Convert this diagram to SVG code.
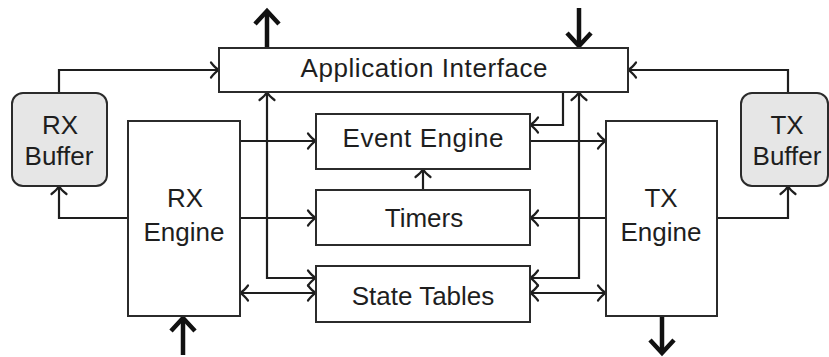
<svg xmlns="http://www.w3.org/2000/svg" width="829" height="357" viewBox="0 0 829 357">
  <defs>
    <style>
      .box { fill: #ffffff; stroke: #2b2b2b; stroke-width: 2; }
      .buf { fill: #e6e6e6; stroke: #2b2b2b; stroke-width: 2; }
      .lbl { font-family: "Liberation Sans", Arial, sans-serif; font-size: 26px; fill: #1e1e1e; text-anchor: middle; }
      .wire { fill: none; stroke: #1e1e1e; stroke-width: 2.2; }
      .io { fill: none; stroke: #111111; stroke-width: 4.5; }
    </style>
    <!-- thin open arrowhead for internal connections -->
    <marker id="tip" markerUnits="userSpaceOnUse" markerWidth="20" markerHeight="20" viewBox="-10 -10 20 20" refX="0" refY="0" orient="auto-start-reverse" overflow="visible">
      <path d="M-8,-7.5 C-5,-3.5 -2,-1 0,0 C-2,1 -5,3.5 -8,7.5" fill="none" stroke="#1e1e1e" stroke-width="2.2" stroke-linecap="round"/>
    </marker>
    <!-- heavy arrowhead for external inputs and outputs -->
    <marker id="bigtip" markerUnits="userSpaceOnUse" markerWidth="30" markerHeight="30" viewBox="-15 -15 30 30" refX="0" refY="0" orient="auto" overflow="visible">
      <path d="M-13,-12 L0,0 L-13,12" fill="none" stroke="#111111" stroke-width="4.5" stroke-linejoin="miter"/>
    </marker>
  </defs>

  <rect width="829" height="357" fill="#ffffff"/>

  <!-- connections -->
  <g id="connectors">
    <path class="wire" d="M59,93 V70 H219" marker-end="url(#tip)"/>
    <path class="wire" d="M788,93 V70 H628" marker-end="url(#tip)"/>
    <path class="wire" d="M128,218 H59 V186" marker-end="url(#tip)"/>
    <path class="wire" d="M717,218 H788 V186" marker-end="url(#tip)"/>
    <path class="wire" d="M240,141 H316" marker-end="url(#tip)"/>
    <path class="wire" d="M240,218 H316" marker-end="url(#tip)"/>
    <path class="wire" d="M240,293 H316" marker-start="url(#tip)" marker-end="url(#tip)"/>
    <path class="wire" d="M267,92 V278 H316" marker-start="url(#tip)" marker-end="url(#tip)"/>
    <path class="wire" d="M563,92 V125 H530" marker-end="url(#tip)"/>
    <path class="wire" d="M530,141 H606" marker-end="url(#tip)"/>
    <path class="wire" d="M606,218 H530" marker-end="url(#tip)"/>
    <path class="wire" d="M530,293 H606" marker-start="url(#tip)" marker-end="url(#tip)"/>
    <path class="wire" d="M579,92 V278 H530" marker-start="url(#tip)" marker-end="url(#tip)"/>
    <path class="wire" d="M423,190 V169" marker-end="url(#tip)"/>
    <path class="io" d="M267,48 V11" marker-end="url(#bigtip)"/>
    <path class="io" d="M579,8 V46" marker-end="url(#bigtip)"/>
    <path class="io" d="M183,355 V318" marker-end="url(#bigtip)"/>
    <path class="io" d="M662,316 V353" marker-end="url(#bigtip)"/>
  </g>

  <g id="app-interface">
    <rect class="box" x="219" y="48" width="409" height="44"/>
    <text class="lbl" x="424" y="77" textLength="247">Application Interface</text>
  </g>

  <g id="rx-buffer">
    <rect class="buf" x="12" y="93" width="95" height="93" rx="11" ry="11"/>
    <text class="lbl" x="60" y="134">RX</text>
    <text class="lbl" x="59" y="165">Buffer</text>
  </g>

  <g id="tx-buffer">
    <rect class="buf" x="741" y="93" width="87" height="93" rx="11" ry="11"/>
    <text class="lbl" x="787" y="134">TX</text>
    <text class="lbl" x="787" y="165">Buffer</text>
  </g>

  <g id="rx-engine">
    <rect class="box" x="128" y="121" width="112" height="195"/>
    <text class="lbl" x="185" y="207">RX</text>
    <text class="lbl" x="184" y="241">Engine</text>
  </g>

  <g id="tx-engine">
    <rect class="box" x="606" y="121" width="111" height="195"/>
    <text class="lbl" x="661" y="207">TX</text>
    <text class="lbl" x="661" y="241">Engine</text>
  </g>

  <g id="event-engine">
    <rect class="box" x="316" y="114" width="214" height="55"/>
    <text class="lbl" x="423" y="147" textLength="161">Event Engine</text>
  </g>

  <g id="timers">
    <rect class="box" x="316" y="190" width="214" height="55"/>
    <text class="lbl" x="424" y="227">Timers</text>
  </g>

  <g id="state-tables">
    <rect class="box" x="316" y="266" width="214" height="56"/>
    <text class="lbl" x="423" y="305">State Tables</text>
  </g>
</svg>
